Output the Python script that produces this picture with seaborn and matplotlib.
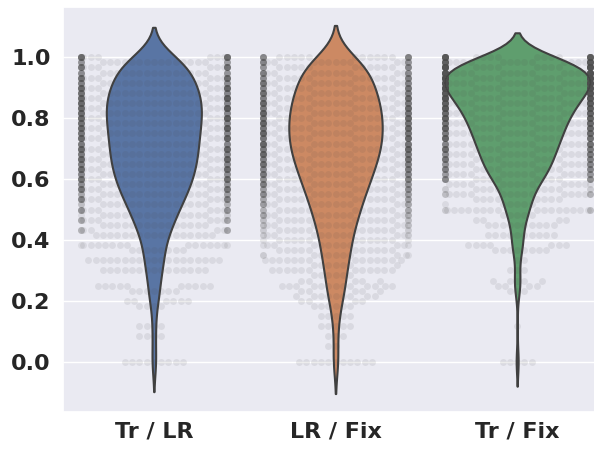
import warnings
import numpy as np
import pandas as pd
import matplotlib
matplotlib.use("Agg")
import matplotlib.pyplot as plt
import seaborn as sns

warnings.filterwarnings("ignore")

pairs = ["Tr / LR", "LR / Fix", "Tr / Fix"]
# scores sit on a 1/60 grid from 0 to 1
score_levels = np.linspace(0, 1, 61)

tr_lr_counts = [9, 0, 0, 0, 0, 4, 0, 4, 0, 0,
                0, 4, 6, 0, 7, 10, 0, 0, 15, 0,
                19, 0, 8, 15, 0, 17, 13, 15, 16, 18,
                20, 22, 24, 26, 28, 30, 31, 32, 33, 34,
                35, 35, 35, 35, 36, 36, 37, 37, 38, 38,
                39, 39, 38, 37, 35, 33, 31, 30, 29, 28,
                34]
lr_fix_counts = [11, 0, 0, 2, 0, 3, 0, 5, 0, 5,
                 0, 6, 4, 9, 5, 13, 5, 6, 12, 7,
                 14, 11, 11, 12, 13, 14, 15, 16, 17, 19,
                 20, 21, 22, 24, 25, 27, 29, 30, 31, 33,
                 34, 36, 37, 38, 38, 38, 38, 38, 38, 38,
                 37, 36, 35, 33, 32, 31, 29, 28, 27, 26,
                 30]
tr_fix_counts = [5, 0, 0, 0, 0, 0, 0, 1, 0, 0,
                 0, 0, 0, 0, 3, 4, 5, 0, 3, 0,
                 2, 0, 8, 7, 0, 10, 0, 10, 4, 5,
                 21, 6, 8, 20, 12, 14, 25, 26, 27, 29,
                 30, 32, 33, 35, 37, 38, 40, 41, 43, 45,
                 48, 51, 54, 58, 62, 66, 68, 66, 60, 52,
                 50]

frames = []
for name, counts in zip(pairs, [tr_lr_counts, lr_fix_counts, tr_fix_counts]):
    frames.append(pd.DataFrame({"pair": name,
                                "score": np.repeat(score_levels, counts)}))
df = pd.concat(frames, ignore_index=True)

sns.set_theme(style="darkgrid")
fig = plt.figure(figsize=(5.94, 4.49), dpi=100)
# axes runs a little past the right edge, as in the cropped original
ax = fig.add_axes([63 / 594, 37 / 449, 545 / 594, 405 / 449])

sns.violinplot(data=df, x="pair", y="score", hue="pair", palette="deep",
               inner=None, linewidth=1.5, linecolor="#404040",
               common_norm=True, legend=False, ax=ax)
sns.swarmplot(data=df, x="pair", y="score", color="0.3", alpha=0.1,
              size=5, ax=ax)

ax.set_xlabel("")
ax.set_ylabel("")
ax.set_yticks([0.0, 0.2, 0.4, 0.6, 0.8, 1.0])
ax.tick_params(axis="both", labelsize=16, length=0, colors="#262626")
ax.tick_params(axis="y", pad=9)
ax.tick_params(axis="x", pad=7)
for lab in ax.get_xticklabels() + ax.get_yticklabels():
    lab.set_fontweight("bold")

fig.savefig("out.png", dpi=100)
